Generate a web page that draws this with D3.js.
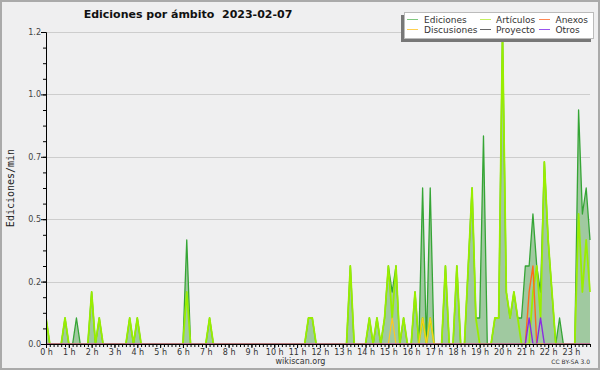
<!DOCTYPE html>
<html><head><meta charset="utf-8">
<script src="https://cdn.jsdelivr.net/npm/d3@7/dist/d3.min.js"></script>
<style>body{margin:0;background:#efefef} svg{display:block}</style>
</head><body><svg id="c" width="600" height="370"></svg>
<script>
// ---- data: edits per minute, one value per 10-minute bucket (144 buckets) ----
const hourLabels = ["0 h","1 h","2 h","3 h","4 h","5 h","6 h","7 h","8 h","9 h","10 h","11 h",
  "12 h","13 h","14 h","15 h","16 h","17 h","18 h","19 h","20 h","21 h","22 h","23 h"];
const yTickValues = [0, 0.24, 0.48, 0.72, 0.96, 1.2];
const yTickLabels = ["0.0","0.2","0.5","0.7","1.0","1.2"];

const ediciones = [
  0.1,0,0,0,0,0.1,   0,0,0.1,0,0,0,
  0.2,0,0.1,0,0,0,   0,0,0,0,0.1,0,
  0.1,0,0,0,0,0,     0,0,0,0,0,0,
  0,0.4,0,0,0,0,     0,0.1,0,0,0,0,
  0,0,0,0,0,0,       0,0,0,0,0,0,
  0,0,0,0,0,0,       0,0,0,0.1,0.1,0,
  0,0,0,0,0,0,       0,0,0.3,0,0,0,
  0,0.1,0,0.1,0,0.1, 0.3,0.2,0.3,0,0.1,0,
  0,0.2,0,0.6,0,0.6, 0,0,0,0.3,0,0,
  0.3,0,0,0.3,0.6,0.1, 0.1,0.8,0,0,0.1,0.1,
  1.2,0.2,0.1,0.2,0.1,0.1, 0.3,0.3,0.5,0.3,0.2,0.7,
  0.4,0.2,0,0.1,0,0, 0,0,0.9,0.5,0.6,0.4
];
const articulos = [
  0.1,0,0,0,0,0.1,   0,0,0,0,0,0,
  0.2,0,0.1,0,0,0,   0,0,0,0,0.1,0,
  0.1,0,0,0,0,0,     0,0,0,0,0,0,
  0,0.2,0,0,0,0,     0,0.1,0,0,0,0,
  0,0,0,0,0,0,       0,0,0,0,0,0,
  0,0,0,0,0,0,       0,0,0,0.1,0.1,0,
  0,0,0,0,0,0,       0,0,0.3,0,0,0,
  0,0.1,0,0.1,0,0.1, 0.3,0.1,0.3,0,0.1,0,
  0,0.2,0,0.1,0,0.1, 0,0,0,0.3,0,0,
  0.3,0,0,0.3,0.6,0.1, 0,0,0,0,0.1,0.1,
  1.2,0.2,0.1,0.2,0.1,0, 0,0,0.2,0.3,0.1,0.7,
  0.4,0.2,0,0,0,0,   0,0,0.5,0.2,0.4,0.2
];
const discusiones = [
  0,0,0,0,0,0, 0,0,0,0,0,0,  0,0,0,0,0,0, 0,0,0,0,0,0,
  0,0,0,0,0,0, 0,0,0,0,0,0,  0,0,0,0,0,0, 0,0,0,0,0,0,
  0,0,0,0,0,0, 0,0,0,0,0,0,  0,0,0,0,0,0, 0,0,0,0,0,0,
  0,0,0,0,0,0, 0,0,0,0,0,0,  0,0,0,0,0,0, 0,0.1,0,0,0,0,
  0,0,0,0.1,0,0.1, 0,0,0,0,0,0,  0,0,0,0,0,0, 0,0,0,0,0,0,
  0,0,0,0,0,0, 0,0,0,0,0,0,  0,0,0,0,0,0, 0,0,0,0,0,0
];
const proyecto = [
  0,0,0,0,0,0, 0,0,0,0,0,0,  0,0,0,0,0,0, 0,0,0,0,0,0,
  0,0,0,0,0,0, 0,0,0,0,0,0,  0,0,0,0,0,0, 0,0,0,0,0,0,
  0,0,0,0,0,0, 0,0,0,0,0,0,  0,0,0,0,0,0, 0,0,0,0,0,0,
  0,0,0,0,0,0, 0,0,0,0,0,0,  0,0,0,0,0,0, 0,0,0,0,0,0,
  0,0,0,0,0,0, 0,0,0,0,0,0,  0,0,0,0,0,0, 0,0,0,0,0,0,
  0,0,0,0,0,0, 0,0,0,0,0,0,  0,0,0,0,0,0, 0,0,0,0,0,0
];
const anexos = [
  0,0,0,0,0,0, 0,0,0,0,0,0,  0,0,0,0,0,0, 0,0,0,0,0,0,
  0,0,0,0,0,0, 0,0,0,0,0,0,  0,0,0,0,0,0, 0,0,0,0,0,0,
  0,0,0,0,0,0, 0,0,0,0,0,0,  0,0,0,0,0,0, 0,0,0,0,0,0,
  0,0,0,0,0,0, 0,0,0,0,0,0,  0,0,0,0,0,0, 0,0,0,0,0,0,
  0,0,0,0,0,0, 0,0,0,0,0,0,  0,0,0,0,0,0, 0,0,0,0,0,0,
  0,0,0,0,0,0, 0,0.2,0.3,0,0,0,  0,0,0,0,0,0, 0,0,0,0,0,0
];
const otros = [
  0,0,0,0,0,0, 0,0,0,0,0,0,  0,0,0,0,0,0, 0,0,0,0,0,0,
  0,0,0,0,0,0, 0,0,0,0,0,0,  0,0,0,0,0,0, 0,0,0,0,0,0,
  0,0,0,0,0,0, 0,0,0,0,0,0,  0,0,0,0,0,0, 0,0,0,0,0,0,
  0,0,0,0,0,0, 0,0,0,0,0,0,  0,0,0,0,0,0, 0,0,0,0,0,0,
  0,0,0,0,0,0, 0,0,0,0,0,0,  0,0,0,0,0,0, 0,0,0,0,0,0,
  0,0,0,0,0,0, 0,0.1,0,0,0.1,0,  0,0,0,0,0,0, 0,0,0,0,0,0
];

const seriesNames = ["Ediciones","Artículos","Anexos","Discusiones","Proyecto","Otros"];
const seriesColors = {
  "Ediciones":"#35a535", "Artículos":"#99ee00", "Anexos":"#ff6a1a",
  "Discusiones":"#ffc820", "Proyecto":"#555555", "Otros":"#8a2be2"
};
const legendColors = {
  "Ediciones":"#80c880", "Artículos":"#c4f060", "Anexos":"#ff8855",
  "Discusiones":"#ffd050", "Proyecto":"#666666", "Otros":"#9955ee"
};
const seriesData = {
  "Ediciones":ediciones, "Artículos":articulos, "Anexos":anexos,
  "Discusiones":discusiones, "Proyecto":proyecto, "Otros":otros
};

// ---- layout ----
const L = 46, R = 590, T = 32, B = 344;
const svg = d3.select("#c");
const FONT = "DejaVu Sans, sans-serif";

svg.append("rect").attr("x",1).attr("y",1).attr("width",598).attr("height",368)
  .attr("fill","#efeff0").attr("stroke","#aaaaaa").attr("stroke-width",2);

const x = d3.scaleLinear().domain([0, ediciones.length - 1]).range([L, R]);
const y = d3.scaleLinear().domain([0, 1.2]).range([B, T]);

// grid
svg.append("g").selectAll("line").data(yTickValues.slice(1)).join("line")
  .attr("x1", L).attr("x2", R)
  .attr("y1", d => Math.round(y(d)) + 0.5).attr("y2", d => Math.round(y(d)) + 0.5)
  .attr("stroke", "#cdcdcd").attr("stroke-width", 1);

// clip so zero-level strokes don't sit on the axis
svg.append("defs").append("clipPath").attr("id","clip")
  .append("rect").attr("x", L).attr("y", 0).attr("width", R - L + 2).attr("height", B - 0.5);

const plot = svg.append("g").attr("clip-path","url(#clip)");

const idx = d3.range(ediciones.length);
const area = d3.area().x(i => x(i)).y0(y(0)).y1(i => y(ediciones[i]));
plot.append("path").datum(idx).attr("d", area).attr("fill", "#a0c9a0");

function drawLine(name, width) {
  const arr = seriesData[name];
  const line = d3.line().x(i => x(i)).y(i => y(arr[i]));
  plot.append("path").datum(idx).attr("d", line)
    .attr("fill","none").attr("stroke", seriesColors[name])
    .attr("stroke-width", width).attr("stroke-linejoin","round");
}
drawLine("Ediciones", 1.3);
drawLine("Artículos", 1.8);
drawLine("Proyecto", 1.2);
drawLine("Discusiones", 1.2);
drawLine("Anexos", 1.4);
drawLine("Otros", 1.4);

// axes
const hourTicks = d3.range(0, 144, 6);
const xMinor = d3.axisBottom(x).tickValues(idx).tickSize(3).tickSizeOuter(0).tickFormat("");
const xMajor = d3.axisBottom(x).tickValues(hourTicks).tickSize(4).tickSizeOuter(0)
  .tickFormat((d, i) => hourLabels[i]);
const gxm = svg.append("g").attr("transform", `translate(0,${B})`).call(xMinor);
const gx = svg.append("g").attr("transform", `translate(0,${B})`).call(xMajor);
gx.selectAll("text").attr("font-family", FONT).attr("font-size", 8).attr("fill", "#333").attr("dy", "0.55em");
[gx, gxm].forEach(g => { g.selectAll("line").attr("stroke","#000"); g.select(".domain").attr("stroke","#000"); });

const yMinorVals = d3.range(0, 21).map(k => k * 0.06);
const yMinor = d3.axisLeft(y).tickValues(yMinorVals).tickSize(3).tickSizeOuter(0).tickFormat("");
const yMajor = d3.axisLeft(y).tickValues(yTickValues).tickSize(5).tickSizeOuter(0)
  .tickFormat((d, i) => yTickLabels[i]);
const gym = svg.append("g").attr("transform", `translate(${L},0)`).call(yMinor);
const gy = svg.append("g").attr("transform", `translate(${L},0)`).call(yMajor);
gy.selectAll("text").attr("font-family", FONT).attr("font-size", 8).attr("fill", "#444").attr("x", -5);
[gy, gym].forEach(g => { g.selectAll("line").attr("stroke","#000"); g.select(".domain").attr("stroke","#000"); });

// title
svg.append("text").attr("x", 188).attr("y", 18).attr("text-anchor","middle")
  .attr("font-family", FONT).attr("font-size", 11).attr("font-weight","bold")
  .attr("fill","#111").style("white-space","pre")
  .text("Ediciones por ámbito  2023-02-07");

// y label
svg.append("text").attr("transform","translate(13.5,188) rotate(-90)")
  .attr("text-anchor","middle").attr("font-family","DejaVu Sans Mono, monospace")
  .attr("font-size", 10).attr("fill","#222").text("Ediciones/min");

// footer
svg.append("text").attr("x", 300.5).attr("y", 364).attr("text-anchor","middle")
  .attr("font-family", FONT).attr("font-size", 8).attr("fill","#333").text("wikiscan.org");
svg.append("text").attr("x", 590).attr("y", 364).attr("text-anchor","end")
  .attr("font-family", FONT).attr("font-size", 6).attr("fill","#333").text("CC BY-SA 3.0");

// legend
const lg = svg.append("g");
lg.append("rect").attr("x", 401).attr("y", 15).attr("width", 190).attr("height", 27).attr("fill", "#777");
lg.append("rect").attr("x", 404.5).attr("y", 12.5).attr("width", 189).attr("height", 26)
  .attr("fill", "#ffffff").attr("stroke", "#bbbbbb").attr("stroke-width", 1);
const colX = [407, 480, 539];
const textX = [424, 496, 555.5];
const rowY = [19, 29];
seriesNames.forEach((name, k) => {
  const c = k % 3, r = Math.floor(k / 3);
  lg.append("line").attr("x1", colX[c]).attr("x2", colX[c] + 11)
    .attr("y1", rowY[r] + 0.5).attr("y2", rowY[r] + 0.5)
    .attr("stroke", legendColors[name]).attr("stroke-width", 1);
  lg.append("text").attr("x", textX[c]).attr("y", rowY[r] + 3.5)
    .attr("font-family", FONT).attr("font-size", 9).attr("fill", "#333").text(name);
});
</script></body></html>
